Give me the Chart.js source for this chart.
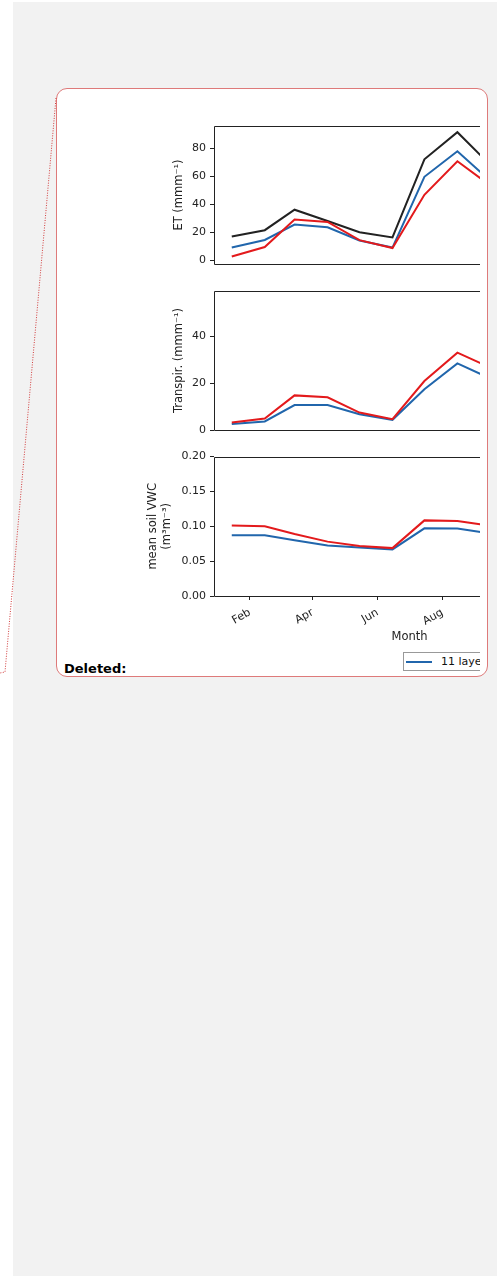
<!DOCTYPE html>
<html>
<head>
<meta charset="utf-8">
<script src="https://cdn.jsdelivr.net/npm/chart.js@4.4.1/dist/chart.umd.min.js"></script>
<style>
body{margin:0;background:#fff;width:504px;height:1276px;position:relative;overflow:hidden;font-family:"DejaVu Sans",sans-serif;}
#page{position:absolute;left:13px;top:2px;width:484px;height:1274px;background:#f2f2f2;}
#box{position:absolute;left:56px;top:88px;width:432px;height:589px;border:1.5px solid #de7a7a;border-radius:11px;background:#fff;box-sizing:border-box;}
#clip{position:absolute;left:0;top:0;width:480px;height:700px;overflow:hidden;}
.panel{position:absolute;left:140px;width:470px;}
#legend{position:absolute;left:403px;top:652px;width:120px;height:19px;border:1px solid #999;background:#fff;box-sizing:border-box;}
#legend .ln{position:absolute;left:2px;top:7.5px;width:26px;height:2px;background:#2166ac;}
#legend .tx{position:absolute;left:37px;top:2px;font-size:11px;color:#111;white-space:nowrap;}
#deleted{position:absolute;left:64px;top:661px;font-weight:bold;font-size:13px;color:#000;}
svg{position:absolute;left:0;top:0;}
</style>
</head>
<body>
<div id="page"></div>
<div id="box"></div>
<svg width="504" height="1276"><polyline points="56,98 5,672 0,673" fill="none" stroke="#d23c3c" stroke-width="1" stroke-dasharray="1 1.5"/></svg>
<div id="deleted">Deleted:</div>
<div id="clip">
  <div class="panel" style="top:115px;height:160px"><canvas id="c1"></canvas></div>
  <div class="panel" style="top:280px;height:161px"><canvas id="c2"></canvas></div>
  <div class="panel" style="top:446px;height:198px"><canvas id="c3"></canvas></div>
  <div id="legend"><div class="ln"></div><div class="tx">11 layers</div></div>
</div>
<script>
// monthly values, mid-month
var months = ['Jan','Feb','Mar','Apr','May','Jun','Jul','Aug','Sep'];
var etBlack = [16.9, 21.4, 36.0, 28.0, 20.0, 16.2, 72.0, 91.3, 67.8];
var etBlue  = [9.0, 14.4, 25.4, 23.5, 14.1, 9.0, 59.5, 77.7, 56.5];
var etRed   = [2.6, 9.4, 29.0, 27.3, 14.3, 8.7, 46.6, 70.6, 53.2];
var trRed   = [3.4, 5.1, 14.9, 14.1, 7.6, 4.8, 21.0, 33.1, 26.7];
var trBlue  = [2.7, 3.8, 10.8, 10.8, 6.9, 4.5, 17.5, 28.5, 22.1];
var vwcRed  = [0.101, 0.100, 0.089, 0.078, 0.0716, 0.0687, 0.1085, 0.1076, 0.1008];
var vwcBlue = [0.0872, 0.0872, 0.080, 0.0725, 0.0697, 0.0668, 0.0971, 0.0967, 0.0897];
var tickMonths = ['Feb','Apr','Jun','Aug'];
var etTicks = [0, 20, 40, 60, 80];
var trTicks = [0, 20, 40];
var vwcTicks = [0, 0.05, 0.10, 0.15, 0.20];

var BLUE = '#2166ac', RED = '#e31a1c', BLACK = '#222222';
var allMonths = ['Jan','Feb','Mar','Apr','May','Jun','Jul','Aug','Sep','Oct','Nov','Dec'];
var t0 = new Date(2001, 0, 1).getTime();
function doy(m, d){ return Math.round((new Date(2001, m, d).getTime() - t0) / 86400000); }
var days = months.map(function(m, i){ return doy(i, 15); });
var tickDays = tickMonths.map(function(m){ return doy(allMonths.indexOf(m), 1); });

function pts(vals){ return vals.map(function(v, i){ return {x: days[i], y: v}; }); }
function ds(vals, color){
  return {data: pts(vals), borderColor: color, borderWidth: 2, pointRadius: 0, tension: 0, fill: false};
}

var spines = {
  id: 'spines',
  afterDraw: function(chart){
    var a = chart.chartArea, c = chart.ctx;
    c.save();
    c.strokeStyle = '#222'; c.lineWidth = 1;
    c.beginPath();
    c.moveTo(a.right + 5, Math.round(a.top) + 0.5); c.lineTo(Math.round(a.left) + 0.5, Math.round(a.top) + 0.5);
    c.lineTo(Math.round(a.left) + 0.5, Math.round(a.bottom) + 0.5); c.lineTo(a.right + 5, Math.round(a.bottom) + 0.5);
    c.stroke();
    c.restore();
  }
};

var tickFont = {family: 'DejaVu Sans', size: 11};
var titleFont = {family: 'DejaVu Sans', size: 11.5};

function makeChart(id, datasets, ymin, ymax, yticks, ytitle, titlePad, withX){
  var fmt = function(v){ return ymax < 1 ? v.toFixed(2) : String(v); };
  var xScale = withX ? {
    type: 'linear', min: -2.7, max: 364.7,
    afterBuildTicks: function(s){ s.ticks = tickDays.map(function(v){ return {value: v}; }); },
    afterFit: function(s){ s.height = 48; },
    ticks: {minRotation: 30, maxRotation: 30, padding: 6, color: '#222', font: tickFont,
      callback: function(v, i){ return tickMonths[i]; }},
    grid: {drawOnChartArea: false, drawTicks: true, tickLength: 4, color: '#222'},
    border: {display: false},
    title: {display: true, text: 'Month', color: '#222', font: titleFont, padding: {top: 0, bottom: 0}}
  } : {type: 'linear', min: -2.7, max: 364.7, display: false};
  return new Chart(document.getElementById(id), {
    type: 'line',
    data: {datasets: datasets},
    options: {
      responsive: true, maintainAspectRatio: false, animation: false,
      layout: {padding: {top: 10, right: 5, bottom: withX ? 0 : 10, left: 0}},
      plugins: {legend: {display: false}, tooltip: {enabled: false}},
      scales: {
        x: xScale,
        y: {
          min: ymin, max: ymax,
          afterBuildTicks: function(s){ s.ticks = yticks.map(function(v){ return {value: v}; }); },
          afterFit: function(s){ s.width = 74; },
          ticks: {padding: 4, color: '#222', font: tickFont, callback: function(v){ return fmt(v); }},
          grid: {drawOnChartArea: false, drawTicks: true, tickLength: 4, color: '#222'},
          border: {display: false},
          title: {display: true, text: ytitle, color: '#222', font: titleFont, padding: {top: titlePad, bottom: 0}}
        }
      }
    },
    plugins: [spines]
  });
}

makeChart('c1', [ds(etRed, RED), ds(etBlue, BLUE), ds(etBlack, BLACK)], -3, 96, etTicks, 'ET (mmm\u207b\u00b9)', 32, false);
makeChart('c2', [ds(trRed, RED), ds(trBlue, BLUE)], 0, 59.5, trTicks, 'Transpir. (mmm\u207b\u00b9)', 32, false);
makeChart('c3', [ds(vwcRed, RED), ds(vwcBlue, BLUE)], 0, 0.2, vwcTicks, ['mean soil VWC', '(m\u00b3m\u207b\u00b3)'], 6, true);
</script>
</body>
</html>
